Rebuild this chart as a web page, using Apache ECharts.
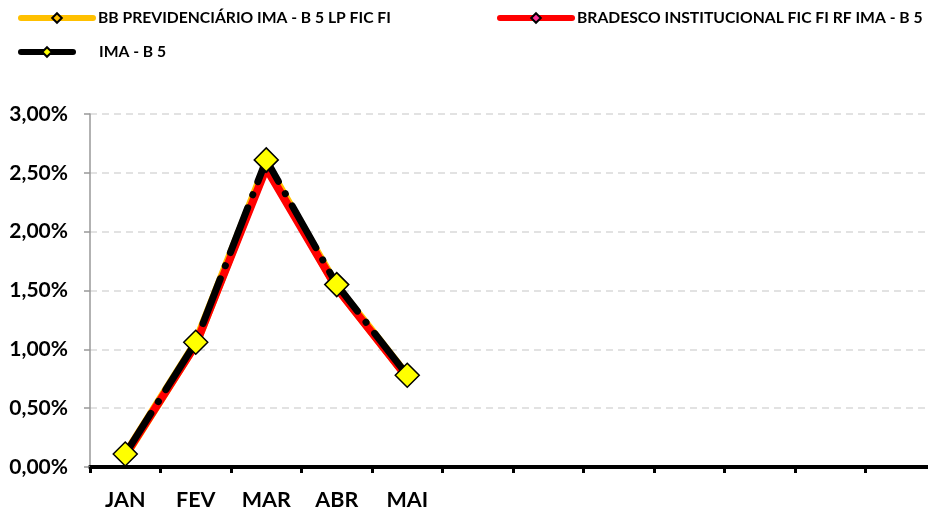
<!DOCTYPE html>
<html><head><meta charset="utf-8">
<script src="https://cdn.jsdelivr.net/npm/echarts@6/dist/echarts.min.js"></script>
<style>html,body{margin:0;padding:0;background:#fff;overflow:hidden}#c{width:936px;height:514px}</style>
</head><body><div id="c"></div>
<script>
const categories = ['JAN','FEV','MAR','ABR','MAI','','','','','','',''];
const bbValues = [0.10, 1.05, 2.57, 1.53, 0.77];
const bradescoValues = [0.10, 1.04, 2.54, 1.52, 0.76];
const imaValues = [0.11, 1.06, 2.61, 1.55, 0.78];
const seriesNames = ['BB PREVIDENCIÁRIO IMA - B 5 LP FIC FI','BRADESCO INSTITUCIONAL FIC FI RF IMA - B 5','IMA - B 5'];
const yTicks = [0, 0.5, 1, 1.5, 2, 2.5, 3];

const font = 'Lato, "Open Sans", sans-serif';
const chart = echarts.init(document.getElementById('c'), null, {renderer:'canvas'});
const legendText = {fontFamily: font, fontWeight: 'bold', fontSize: 15.7, color: '#000'};
function fmt(v){ return v.toFixed(2).replace('.', ',') + '%'; }
const legLine = {width: 6, cap: 'round', type: 'solid'};

chart.setOption({
  animation: false,
  backgroundColor: '#fff',
  legend: [
    {data:[seriesNames[0]], left: 18, top: 10, padding: 0, itemWidth: 72, itemHeight: 12, textStyle: legendText, lineStyle: legLine},
    {data:[seriesNames[1]], left: 497, top: 10, padding: 0, itemWidth: 72, itemHeight: 12, textStyle: legendText, lineStyle: legLine},
    {data:[seriesNames[2]], left: 18, top: 44, padding: 0, itemWidth: 52, itemHeight: 12,
     textStyle: Object.assign({}, legendText, {padding: [0, 0, 0, 21]}), lineStyle: legLine}
  ],
  grid: {left: 90, right: 0, top: 114, bottom: 47, containLabel: false},
  xAxis: {
    type: 'category', data: categories, boundaryGap: true,
    axisLine: {lineStyle: {color: '#000', width: 4}},
    axisTick: {show: true, length: 6, lineStyle: {color: '#000', width: 3}},
    axisLabel: {fontFamily: font, fontWeight: 'bold', fontSize: 21.5, color: '#000', margin: 22, interval: 0},
    splitLine: {show: false}
  },
  yAxis: {
    type: 'value', min: 0, max: 3, interval: 0.5,
    axisLine: {show: true, lineStyle: {color: '#999', width: 1.5}},
    axisTick: {show: true, length: 6, lineStyle: {color: '#999', width: 1.5}},
    axisLabel: {formatter: fmt, fontFamily: font, fontWeight: 'bold', fontSize: 21, color: '#000', margin: 22},
    splitLine: {show: true, lineStyle: {color: '#d9d9d9', width: 1.5, type: [7, 5]}}
  },
  series: [
    {name: seriesNames[0], type: 'line', data: bbValues, z: 2,
     symbol: 'diamond', symbolSize: 10, showSymbol: true,
     itemStyle: {color: '#FFC000', borderColor: '#000', borderWidth: 1},
     lineStyle: {color: '#FFC000', width: 9, cap: 'round'}},
    {name: seriesNames[1], type: 'line', data: bradescoValues, z: 3,
     symbol: 'diamond', symbolSize: 10,
     itemStyle: {color: '#FF3399', borderColor: '#000', borderWidth: 1},
     lineStyle: {color: '#FF0000', width: 8, cap: 'round'}},
    {name: seriesNames[2], type: 'line', data: imaValues, z: 4,
     symbol: 'diamond', symbolSize: 24,
     itemStyle: {color: '#FFFF00', borderColor: '#000', borderWidth: 1.5},
     lineStyle: {color: '#000', width: 7, cap: 'round', type: [48, 14, 0.1, 14]}}
  ]
});
</script></body></html>
